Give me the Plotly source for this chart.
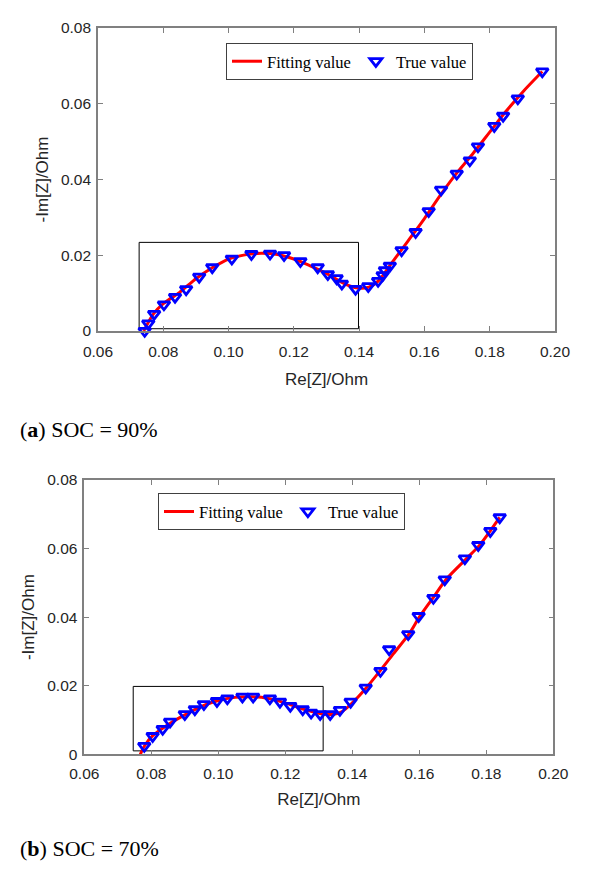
import plotly.graph_objects as go

# ---------------- data: (a) SOC = 90% ----------------
a_true_x = [0.0743, 0.0754, 0.0772, 0.0802, 0.0836, 0.0870, 0.0910, 0.0950, 0.1010, 0.1070,
            0.1127, 0.1170, 0.1220, 0.1273, 0.1304, 0.1331, 0.1347, 0.1389, 0.1428, 0.1458,
            0.1472, 0.1479, 0.1494, 0.1530, 0.1573, 0.1613, 0.1651, 0.1699, 0.1739, 0.1764,
            0.1814, 0.1841, 0.1886, 0.1961]
a_true_y = [0.0000, 0.0020, 0.0045, 0.0070, 0.0090, 0.0110, 0.0143, 0.0168, 0.0191, 0.0203,
            0.0204, 0.0200, 0.0184, 0.0168, 0.0150, 0.0139, 0.0125, 0.0111, 0.0118, 0.0132,
            0.0147, 0.0160, 0.0172, 0.0213, 0.0261, 0.0316, 0.0373, 0.0415, 0.0450, 0.0487,
            0.0541, 0.0568, 0.0614, 0.0685]
a_fit_x = [0.0740, 0.0770, 0.0800, 0.0850, 0.0900, 0.0950, 0.1000, 0.1050, 0.1100, 0.1150,
           0.1200, 0.1250, 0.1300, 0.1350, 0.1390, 0.1430, 0.1460, 0.1500, 0.1550, 0.1600,
           0.1650, 0.1700, 0.1750, 0.1800, 0.1850, 0.1900, 0.1961]
a_fit_y = [0.0000, 0.0045, 0.0072, 0.0102, 0.0138, 0.0167, 0.0190, 0.0201, 0.0205, 0.0202,
           0.0190, 0.0172, 0.0152, 0.0127, 0.0114, 0.0116, 0.0133, 0.0180, 0.0238, 0.0297,
           0.0360, 0.0418, 0.0470, 0.0525, 0.0580, 0.0630, 0.0685]
a_box_x = [0.0726, 0.1398]
a_box_y = [0.0006, 0.0234]

# ---------------- data: (b) SOC = 70% ----------------
b_true_x = [0.0779, 0.0804, 0.0834, 0.0856, 0.0900, 0.0930, 0.0957, 0.0996, 0.1027, 0.1072,
            0.1104, 0.1154, 0.1184, 0.1215, 0.1252, 0.1277, 0.1304, 0.1334, 0.1363, 0.1395,
            0.1440, 0.1484, 0.1510, 0.1567, 0.1598, 0.1642, 0.1676, 0.1736, 0.1776, 0.1812,
            0.1840]
b_true_y = [0.0024, 0.0053, 0.0074, 0.0095, 0.0117, 0.0131, 0.0146, 0.0155, 0.0163, 0.0168,
            0.0168, 0.0163, 0.0153, 0.0141, 0.0131, 0.0121, 0.0117, 0.0117, 0.0129, 0.0153,
            0.0194, 0.0243, 0.0306, 0.0350, 0.0403, 0.0456, 0.0510, 0.0571, 0.0610, 0.0651,
            0.0691]
b_fit_x = [0.0765, 0.0780, 0.0805, 0.0835, 0.0860, 0.0900, 0.0950, 0.1000, 0.1050, 0.1100,
           0.1150, 0.1200, 0.1250, 0.1300, 0.1340, 0.1370, 0.1400, 0.1440, 0.1480, 0.1520,
           0.1570, 0.1600, 0.1640, 0.1680, 0.1740, 0.1780, 0.1840]
b_fit_y = [-0.0005, 0.0025, 0.0055, 0.0077, 0.0093, 0.0115, 0.0140, 0.0157, 0.0166, 0.0168,
           0.0163, 0.0150, 0.0133, 0.0120, 0.0116, 0.0125, 0.0150, 0.0192, 0.0240, 0.0290,
           0.0352, 0.0400, 0.0455, 0.0510, 0.0570, 0.0610, 0.0691]
b_box_x = [0.0746, 0.1313]
b_box_y = [0.0010, 0.0198]

x_tickvals = [0.06, 0.08, 0.10, 0.12, 0.14, 0.16, 0.18, 0.20]
x_ticktext = ["0.06", "0.08", "0.10", "0.12", "0.14", "0.16", "0.18", "0.20"]
y_tickvals = [0, 0.02, 0.04, 0.06, 0.08]
y_ticktext = ["0", "0.02", "0.04", "0.06", "0.08"]

captions = [("a", "SOC = 90%"), ("b", "SOC = 70%")]

W, H = 594, 873
fig = go.Figure()

RED = "#ff0000"
BLUE = "#0000ff"
AXC = "#808080"
TICKFONT = dict(family="Liberation Sans, Arial", size=15.5, color="#262626")
TITLEFONT = dict(family="Liberation Sans, Arial", size=17, color="#262626")
LEGFONT = dict(family="Liberation Serif, Times New Roman", size=16.5, color="#000000")

def add_panel(fx, fy, tx, ty, xa, ya, legend):
    fig.add_trace(go.Scatter(x=fx, y=fy, mode="lines", name="Fitting value",
                             line=dict(color=RED, width=3, shape="spline", smoothing=0.8),
                             xaxis=xa, yaxis=ya, legend=legend))
    fig.add_trace(go.Scatter(x=tx, y=ty, mode="markers", name="True value",
                             marker=dict(symbol="triangle-down-open", size=10.5,
                                         color=BLUE, line=dict(width=2.8, color=BLUE)),
                             cliponaxis=False, xaxis=xa, yaxis=ya, legend=legend))

add_panel(a_fit_x, a_fit_y, a_true_x, a_true_y, "x", "y", "legend")
add_panel(b_fit_x, b_fit_y, b_true_x, b_true_y, "x2", "y2", "legend2")

def box_shape(bx, by, xr, yr):
    return dict(type="rect", xref=xr, yref=yr, x0=bx[0], x1=bx[1], y0=by[0], y1=by[1],
                line=dict(color="#000000", width=1), layer="below")

axis_common = dict(showline=True, linecolor=AXC, linewidth=1.6, mirror="ticks",
                   ticks="inside", ticklen=5, tickcolor=AXC, tickwidth=1.2,
                   showgrid=False, zeroline=False, tickfont=TICKFONT, automargin=False)

xa_dom_a = [98 / W, 555 / W]
ya_dom_a = [1 - 331 / H, 1 - 28 / H]
xa_dom_b = [84.3 / W, 553.3 / W]
ya_dom_b = [1 - 754.3 / H, 1 - 480 / H]

fig.update_layout(
    width=W, height=H,
    margin=dict(l=0, r=0, t=0, b=0, autoexpand=False),
    paper_bgcolor="white", plot_bgcolor="white",
    xaxis=dict(domain=xa_dom_a, anchor="y", range=[0.06, 0.20],
               tickvals=x_tickvals, ticktext=x_ticktext, ticklabelstandoff=6,
               title=dict(text="Re[Z]/Ohm", font=TITLEFONT, standoff=14), **axis_common),
    yaxis=dict(domain=ya_dom_a, anchor="x", range=[0, 0.08],
               tickvals=y_tickvals, ticktext=y_ticktext, ticklabelstandoff=2,
               title=dict(text="-Im[Z]/Ohm", font=TITLEFONT, standoff=8), **axis_common),
    xaxis2=dict(domain=xa_dom_b, anchor="y2", range=[0.06, 0.20],
                tickvals=x_tickvals, ticktext=x_ticktext, ticklabelstandoff=4,
                title=dict(text="Re[Z]/Ohm", font=TITLEFONT, standoff=12), **axis_common),
    yaxis2=dict(domain=ya_dom_b, anchor="x2", range=[0, 0.08],
                tickvals=y_tickvals, ticktext=y_ticktext, ticklabelstandoff=2,
                title=dict(text="-Im[Z]/Ohm", font=TITLEFONT, standoff=8), **axis_common),
    legend=dict(x=226 / W, y=1 - 43 / H, xanchor="left", yanchor="top",
                orientation="h", bordercolor="#404040", borderwidth=1,
                bgcolor="white", font=LEGFONT, itemwidth=30,
                tracegroupgap=0),
    legend2=dict(x=158 / W, y=1 - 493.3 / H, xanchor="left", yanchor="top",
                 orientation="h", bordercolor="#404040", borderwidth=1,
                 bgcolor="white", font=LEGFONT, itemwidth=30),
    shapes=[box_shape(a_box_x, a_box_y, "x", "y"),
            box_shape(b_box_x, b_box_y, "x2", "y2")],
    showlegend=True,
)

cap_y = [1 - 429 / H, 1 - 848.3 / H]
for (letter, text), yy in zip(captions, cap_y):
    fig.add_annotation(xref="paper", yref="paper", x=18 / W, y=yy,
                       xanchor="left", yanchor="middle", showarrow=False,
                       text=f"(<b>{letter}</b>) {text}",
                       font=dict(family="Liberation Serif, Times New Roman", size=22, color="#000000"))

fig.write_html("out.html", config={"displayModeBar": False},
               post_script="document.body.style.margin='0';document.body.style.overflow='hidden';")
